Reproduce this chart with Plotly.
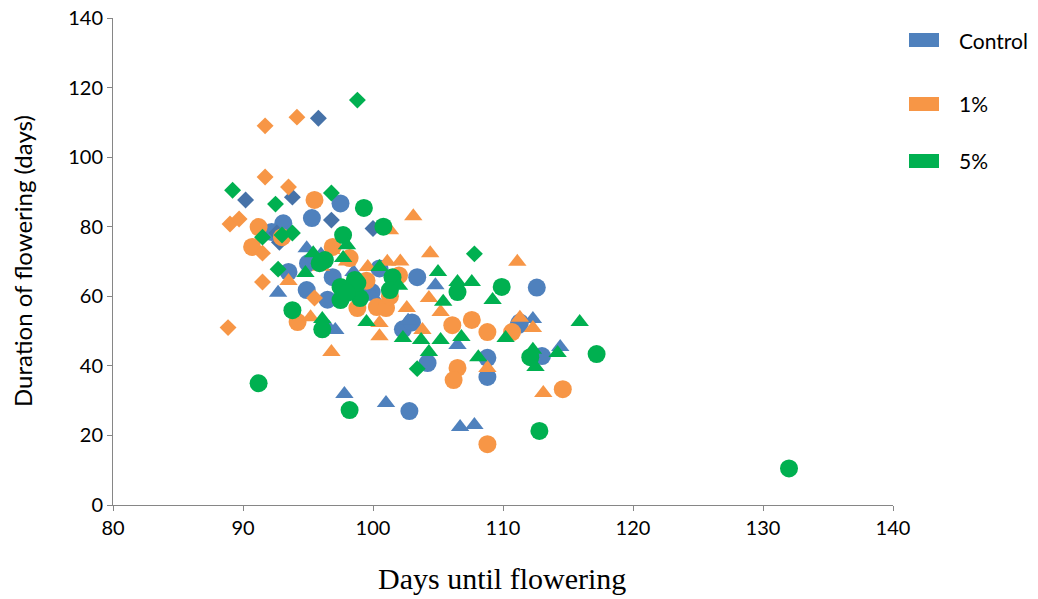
import plotly.graph_objects as go

# ---------------- data ----------------
series_names = ["Control", "1%", "5%"]
series_colors = ["#4f81bd", "#f79646", "#00b050"]
x_ticks = [80, 90, 100, 110, 120, 130, 140]
y_ticks = [0, 20, 40, 60, 80, 100, 120, 140]

control_circle_x = [93.1, 95.3, 97.5, 103.4, 112.6, 111.2, 113.0, 108.8, 108.8, 104.2, 102.8, 93.5, 94.9, 96.5, 96.9, 99.9, 100.5, 102.3, 103.0, 95.0, 92.2, 111.3]
control_circle_y = [81.0, 82.5, 86.7, 65.5, 62.5, 51.8, 42.8, 42.3, 36.8, 40.8, 27.0, 67.0, 61.8, 59.0, 65.5, 61.2, 68.0, 50.5, 52.5, 69.5, 78.5, 52.5]
control_tri_x = [94.9, 92.7, 97.1, 97.8, 101.0, 106.7, 107.8, 106.5, 112.3, 114.4, 104.8, 96.0, 100.0, 98.5, 102.7, 96.6]
control_tri_y = [73.8, 61.0, 50.3, 31.9, 29.3, 22.4, 23.0, 46.0, 53.5, 45.4, 63.2, 72.0, 60.0, 67.0, 53.0, 51.0]
control_dia_x = [95.8, 90.2, 93.8, 96.8, 100.0, 92.6, 92.8]
control_dia_y = [111.2, 87.7, 88.5, 81.9, 79.5, 78.2, 75.5]

p1_circle_x = [95.5, 91.2, 90.7, 93.0, 96.9, 98.2, 94.2, 98.8, 100.3, 101.0, 106.1, 107.6, 108.8, 110.7, 106.5, 106.2, 108.8, 114.6, 101.3, 99.5, 102.0]
p1_circle_y = [87.7, 79.9, 74.2, 77.0, 74.2, 71.0, 52.6, 56.6, 56.9, 56.6, 51.7, 53.2, 49.7, 49.7, 39.4, 35.9, 17.5, 33.3, 60.0, 64.5, 66.0]
p1_tri_x = [103.1, 101.3, 96.8, 104.4, 111.1, 101.1, 102.1, 99.6, 93.5, 95.2, 96.8, 100.5, 100.5, 104.3, 102.6, 105.2, 103.8, 108.8, 111.3, 112.3, 113.1, 96.0, 98.0]
p1_tri_y = [83.0, 79.0, 73.3, 72.4, 69.9, 69.9, 70.0, 68.4, 64.4, 54.0, 44.0, 52.3, 48.5, 59.5, 56.6, 55.5, 50.3, 39.4, 53.8, 50.9, 32.2, 68.5, 70.0]
p1_dia_x = [88.85, 91.7, 94.15, 91.7, 93.5, 89.0, 89.7, 91.5, 91.5, 95.5]
p1_dia_y = [51.0, 109.0, 111.5, 94.3, 91.4, 80.8, 82.2, 64.1, 72.4, 59.5]

p5_circle_x = [99.3, 100.8, 97.7, 96.3, 95.9, 97.5, 98.6, 93.8, 96.1, 97.5, 99.0, 98.8, 101.5, 101.3, 106.5, 109.9, 112.1, 117.2, 112.8, 98.2, 91.2, 132.0, 98.0]
p5_circle_y = [85.4, 80.0, 77.6, 70.4, 69.5, 62.7, 64.7, 56.0, 50.5, 58.9, 59.5, 63.8, 65.5, 61.8, 61.2, 62.7, 42.5, 43.4, 21.3, 27.3, 35.0, 10.5, 61.0]
p5_tri_x = [98.0, 95.4, 94.8, 97.7, 100.5, 105.0, 106.5, 107.6, 105.4, 109.2, 102.3, 103.7, 105.2, 106.8, 110.2, 104.3, 108.1, 96.1, 99.5, 115.9, 114.2, 112.3, 112.5, 102.0]
p5_tri_y = [74.7, 72.4, 66.7, 71.0, 68.4, 67.0, 64.1, 64.1, 58.4, 58.9, 48.0, 47.4, 47.4, 48.3, 48.0, 44.0, 42.5, 53.5, 52.6, 52.6, 43.7, 44.6, 39.7, 63.0]
p5_dia_x = [98.8, 89.2, 92.5, 96.8, 91.5, 93.0, 93.8, 92.7, 107.8, 103.4]
p5_dia_y = [116.4, 90.5, 86.5, 89.7, 77.0, 77.6, 78.2, 67.8, 72.2, 39.2]

groups = [
    (control_circle_x, control_circle_y, "circle", series_colors[0], 18),
    (control_tri_x, control_tri_y, "triangle-up", series_colors[0], 16),
    (control_dia_x, control_dia_y, "diamond", "#4672a8", 13),
    (p1_circle_x, p1_circle_y, "circle", series_colors[1], 18),
    (p1_tri_x, p1_tri_y, "triangle-up", series_colors[1], 16),
    (p1_dia_x, p1_dia_y, "diamond", series_colors[1], 13),
    (p5_circle_x, p5_circle_y, "circle", series_colors[2], 18),
    (p5_tri_x, p5_tri_y, "triangle-up", series_colors[2], 16),
    (p5_dia_x, p5_dia_y, "diamond", series_colors[2], 13),
]

fig = go.Figure()
for gx, gy, sym, col, sz in groups:
    fig.add_trace(go.Scatter(
        x=gx, y=gy, mode="markers", showlegend=False, hoverinfo="x+y",
        marker=dict(symbol=sym, color=col, size=sz, line=dict(width=0)),
    ))

W, H = 1038, 599
PLOT_L, PLOT_R, PLOT_T, PLOT_B = 113, 893, 18, 505   # plot-area edges in window px
L, T = PLOT_L, PLOT_T
R, B = W - PLOT_R, H - PLOT_B
pw, ph = PLOT_R - PLOT_L, PLOT_B - PLOT_T

def px_to_paper(px, py):
    return (px - PLOT_L) / pw, (PLOT_B - py) / ph

# manual legend (colour swatches + labels)
legend_rows_py = [40, 104, 161]
for name, col, py in zip(series_names, series_colors, legend_rows_py):
    x0, y0 = px_to_paper(909, py + 7)
    x1, y1 = px_to_paper(939, py - 7)
    fig.add_shape(type="rect", xref="paper", yref="paper", x0=x0, x1=x1, y0=y0, y1=y1,
                  fillcolor=col, line=dict(width=0))
    tx, ty = px_to_paper(957, py)
    fig.add_annotation(xref="paper", yref="paper", x=tx, y=ty, text=name, showarrow=False,
                       xanchor="left", yanchor="middle",
                       font=dict(family="Lato, Open Sans, sans-serif", size=21, color="#000000"))

# axis titles as annotations, positioned like the reference
xt_x, xt_y = px_to_paper(502, 578)
fig.add_annotation(xref="paper", yref="paper", x=xt_x, y=xt_y, text="Days until flowering",
                   showarrow=False, xanchor="center", yanchor="middle",
                   font=dict(family="Liberation Serif, Times New Roman, serif", size=30, color="#000000"))
yt_x, yt_y = px_to_paper(22, 261)
fig.add_annotation(xref="paper", yref="paper", x=yt_x, y=yt_y, text="Duration of flowering (days)",
                   showarrow=False, xanchor="center", yanchor="middle", textangle=-90,
                   font=dict(family="Lato, Open Sans, sans-serif", size=24, color="#000000"))

axis_common = dict(showgrid=False, zeroline=False, showline=True, linecolor="#868686", linewidth=1,
                   ticks="outside", ticklen=5, tickcolor="#868686", automargin=False,
                   tickfont=dict(family="Lato, Open Sans, sans-serif", size=20, color="#000000"))

fig.update_layout(
    width=W, height=H,
    margin=dict(l=L, r=R, t=T, b=B, autoexpand=False),
    paper_bgcolor="white", plot_bgcolor="white",
    xaxis=dict(range=[80, 140], tickvals=x_ticks, **axis_common),
    yaxis=dict(range=[0, 140], tickvals=y_ticks, **axis_common),
)

# remove the browser's default 8px body margin so the figure fills the window exactly
fig.write_html("out.html", config={"displayModeBar": False},
               post_script="document.body.style.margin='0';document.body.style.overflow='hidden';")
